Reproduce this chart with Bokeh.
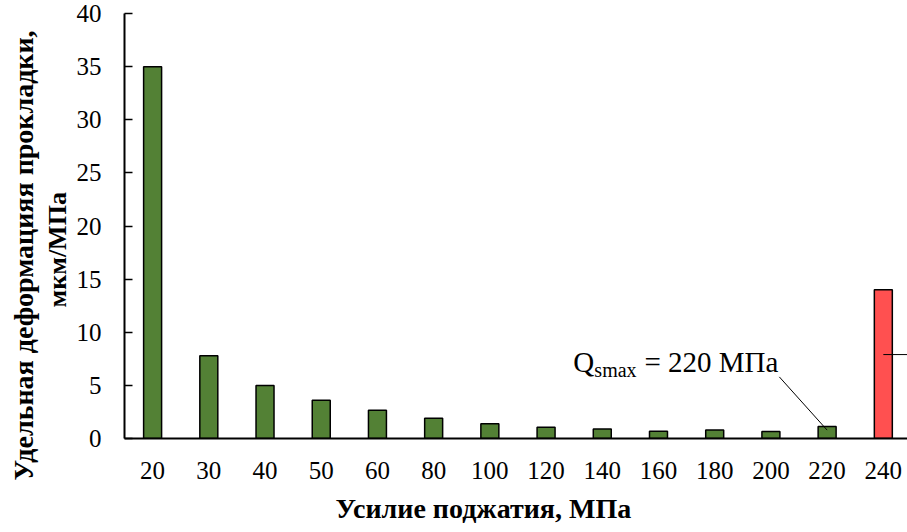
from bokeh.plotting import figure
from bokeh.models import Range1d, FixedTicker, Label, ColumnDataSource, Title
from bokeh.embed import file_html
from bokeh.resources import INLINE

# ---- data ----
categories = ["20", "30", "40", "50", "60", "80", "100", "120", "140",
              "160", "180", "200", "220", "240"]
values = [35.0, 7.8, 5.0, 3.6, 2.65, 1.9, 1.38, 1.06, 0.9, 0.69, 0.8, 0.66, 1.13, 14.0]
bar_colors = ["#538135"] * 13 + ["#FF5050"]
y_ticks = [0, 5, 10, 15, 20, 25, 30, 35, 40]
annotation_category = "220"
red_marker_value = 7.9

positions = list(range(len(categories)))
src = ColumnDataSource(dict(x=positions, top=values, color=bar_colors, cat=categories))

SERIF = "Liberation Serif"

p = figure(width=907, height=532, output_backend="svg", toolbar_location=None,
           x_range=Range1d(-0.5, 13.43), y_range=Range1d(0, 40),
           min_border_left=124, min_border_right=0, min_border_top=13,
           min_border_bottom=94)
p.outline_line_color = None
p.grid.visible = False
p.background_fill_color = "white"
p.border_fill_color = "white"

p.vbar(x="x", top="top", width=0.32, fill_color="color", line_color="black",
       line_width=1.5, source=src)

# axes
p.yaxis.ticker = FixedTicker(ticks=y_ticks)
p.yaxis.major_tick_in = 8
p.yaxis.major_tick_out = 0
p.yaxis.minor_tick_line_color = None
p.yaxis.axis_line_width = 2
p.yaxis.major_tick_line_width = 1.5
p.yaxis.major_label_standoff = 23
p.yaxis.major_label_text_font = SERIF
p.yaxis.major_label_text_font_size = "25px"
p.yaxis.major_label_text_color = "black"

p.xaxis.ticker = FixedTicker(ticks=positions)
p.xaxis.major_label_overrides = {i: c for i, c in zip(positions, categories)}
p.xaxis.major_tick_in = 0
p.xaxis.major_tick_out = 0
p.xaxis.minor_tick_line_color = None
p.xaxis.axis_line_width = 2
p.xaxis.major_label_standoff = 23
p.xaxis.major_label_text_font = SERIF
p.xaxis.major_label_text_font_size = "25px"
p.xaxis.major_label_text_color = "black"

# axis titles as Title panels
def mk_title(text, offset, size, standoff):
    return Title(text=text, align="left", offset=offset, standoff=standoff,
                 text_font=SERIF, text_font_style="bold", text_font_size=size,
                 text_line_height=1.0, text_color="black")

p.add_layout(mk_title("мкм/МПа", 131, "26px", 4), "left")
p.add_layout(mk_title("Удельная деформацияя прокладки,", -42, "28px", 0), "left")
p.add_layout(mk_title("Усилие поджатия, МПа", 211, "28px", 18), "below")

# annotation Q_smax with leader line
ai = categories.index(annotation_category)
ann_x, ann_y = 11.15, 5.8
p.segment(x0=[ann_x], y0=[ann_y], x1=[positions[ai]], y1=[values[ai] * 0.7],
          line_color="black", line_width=1)
p.add_layout(Label(x=ann_x, y=ann_y, x_offset=-206, y_offset=15,
                   text="Q", text_align="left", text_baseline="alphabetic",
                   text_font=SERIF, text_font_size="29px", text_color="black"))
p.add_layout(Label(x=ann_x, y=ann_y, x_offset=-185, y_offset=7,
                   text="smax", text_align="left", text_baseline="alphabetic",
                   text_font=SERIF, text_font_size="20px", text_color="black"))
p.add_layout(Label(x=ann_x, y=ann_y, x_offset=-1, y_offset=15,
                   text="= 220 МПа", text_align="right", text_baseline="alphabetic",
                   text_font=SERIF, text_font_size="29px", text_color="black"))

# marker line on the red bar
p.segment(x0=[positions[-1]], y0=[red_marker_value], x1=[positions[-1] + 1],
          y1=[red_marker_value], line_color="black", line_width=1)

open("out.html", "w").write(file_html(p, INLINE))
